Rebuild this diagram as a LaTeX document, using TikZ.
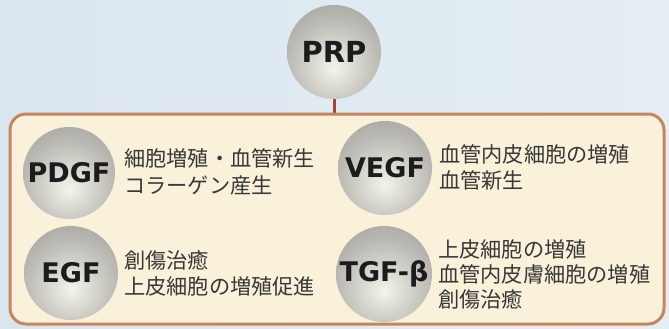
\documentclass[tikz,border=0pt]{standalone}
\usepackage{fontspec}
\newfontfamily\jp{Noto Sans CJK JP}
\newfontfamily\lab{DejaVu Sans}
\definecolor{bgblue}{HTML}{DAE6EF}
\definecolor{bgblueL}{HTML}{E5EEF4}
\definecolor{panelfill}{HTML}{F9F1D9}
\definecolor{panelline}{HTML}{C4855F}
\definecolor{linkred}{HTML}{A3462E}
\definecolor{txt}{HTML}{383838}
\definecolor{lbl}{HTML}{1C1C1C}
\definecolor{sA}{HTML}{F4F3EC}
\definecolor{sB}{HTML}{DEDDD6}
\definecolor{sC}{HTML}{BBBAB4}
\definecolor{sD}{HTML}{9E9D99}
\definecolor{sE}{HTML}{878783}
\pgfdeclareradialshading{sphereshade}{\pgfpoint{0bp}{-9bp}}{%
  color(0bp)=(sA);
  color(9bp)=(sB);
  color(24bp)=(sC);
  color(40bp)=(sD);
  color(56bp)=(sE);
  color(100bp)=(sE)}
\tikzset{
  sphere/.style={circle, shading=sphereshade, minimum size=#1, inner sep=0pt,
    text=lbl, font=\lab\bfseries\fontsize{27}{27}\selectfont},
  desc/.style={anchor=west, align=left, text=txt, inner sep=0pt,
    font=\jp\fontsize{21.2}{26.5}\selectfont},
  panelbox/.style={draw=panelline, line width=3pt, fill=panelfill,
    rounded corners=16pt, minimum width=654pt, minimum height=210pt, inner sep=0pt},
  link/.style={draw=linkred, line width=3pt}
}
\begin{document}
\begin{tikzpicture}[x=1pt,y=-1pt]
\useasboundingbox (0,0) rectangle (669,329);
\shade[left color=bgblue, right color=bgblueL] (0,0) rectangle (669,329);
\node[sphere=94pt, font=\lab\bfseries\fontsize{29}{29}\selectfont] (prp) at (334,52) {PRP};
\coordinate (ptop) at (334,113);
\draw[link] (prp.south) -- (ptop);
\node[panelbox] (panel) at (337,219) {};
\node[sphere=92pt] (pdgf) at (69,173) {PDGF};
\node[sphere=94pt] (vegf) at (385,168) {VEGF};
\node[sphere=94pt] (egf) at (71,273) {EGF};
\node[sphere=96pt] (tgf) at (384,274) {TGF-β};
\node[desc] (tpdgf) at (124,172) {細胞増殖・血管新生\\コラーゲン産生};
\node[desc] (tvegf) at (439,167.5) {血管内皮細胞の増殖\\血管新生};
\node[desc] (tegf) at (124,273.5) {創傷治癒\\上皮細胞の増殖促進};
\node[desc, font=\jp\fontsize{21.2}{25}\selectfont] (ttgf) at (438,274) {上皮細胞の増殖\\血管内皮膚細胞の増殖\\創傷治癒};
\end{tikzpicture}
\end{document}
